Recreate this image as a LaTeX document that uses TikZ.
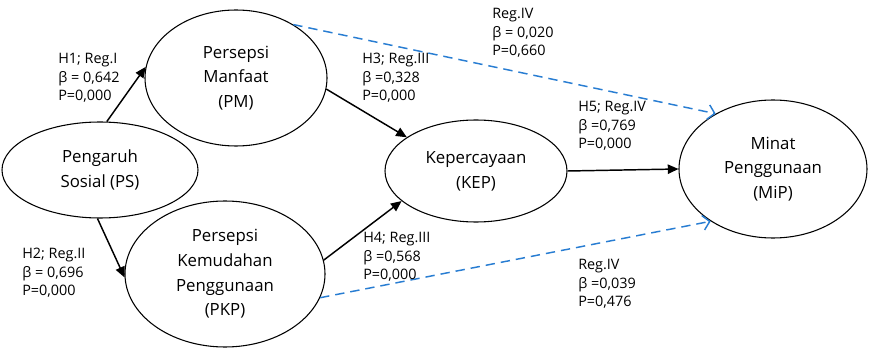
\documentclass[tikz,border=0pt]{standalone}
\usepackage{fontspec}
\setmainfont{Open Sans}
\usepackage{xcolor}
\usetikzlibrary{arrows.meta, positioning, shapes.geometric}
\definecolor{dashblue}{RGB}{40,125,210}
\tikzset{
    latent/.style={ellipse, draw, line width=0.8pt, inner sep=0pt, align=center,
        font=\fontsize{12.6}{18.5}\selectfont},
    coef/.style={anchor=west, align=left, inner sep=0pt,
        font=\fontsize{10.8}{13.9}\selectfont},
    path/.style={line width=1.1pt, -{Triangle[length=8pt,width=7pt]}},
    weak/.style={dashblue, line width=1.1pt, dash pattern=on 7pt off 4.5pt,
        -{Straight Barb[length=5pt,width=11pt]}}
}

\begin{document}
\begin{tikzpicture}[x=0.75pt,y=-0.75pt]
    \useasboundingbox (0,0) rectangle (872,349);

    % constructs
    \node[latent, minimum width=147pt, minimum height=72pt] (ps) at (100,170) {Pengaruh\\Sosial (PS)};
    \node[latent, minimum width=136.5pt, minimum height=102pt] (pm) at (236,78) {Persepsi\\Manfaat\\(PM)};
    \node[latent, minimum width=150pt, minimum height=109.5pt] (pkp) at (225,274) {Persepsi\\Kemudahan\\Penggunaan\\(PKP)};
    \node[latent, minimum width=136.5pt, minimum height=76.5pt] (kep) at (476,171) {Kepercayaan\\(KEP)};
    \node[latent, minimum width=141pt, minimum height=103.5pt] (mip) at (773,169) {Minat\\Penggunaan\\(MiP)};

    % paths
    \draw[path] (ps.82) -- (pm.173);
    \draw[path] (ps.267) -- (pkp.182);
    \draw[path] (pm.353) -- (kep.154);
    \draw[path] (pkp.8) -- (kep.202);
    \draw[path] (kep.east) -- (mip.west);
    \draw[weak] (pm.43) -- (mip.136);
    \draw[weak] (pkp.346) -- (mip.220);

    % coefficients
    \node[coef] (h1) at (58,78) {H1; Reg.I\\β = 0,642\\P=0,000};
    \node[coef] (h2) at (22,273) {H2; Reg.II\\β = 0,696\\P=0,000};
    \node[coef] (h3) at (362,78) {H3; Reg.III\\β =0,328\\P=0,000};
    \node[coef] (h4) at (363,257) {H4; Reg.III\\β =0,568\\P=0,000};
    \node[coef] (h5) at (578,126) {H5; Reg.IV\\β =0,769\\P=0,000};
    \node[coef] (r4a) at (492,33) {Reg.IV\\β = 0,020\\P=0,660};
    \node[coef] (r4b) at (578,284) {Reg.IV\\β =0,039\\P=0,476};
\end{tikzpicture}
\end{document}
